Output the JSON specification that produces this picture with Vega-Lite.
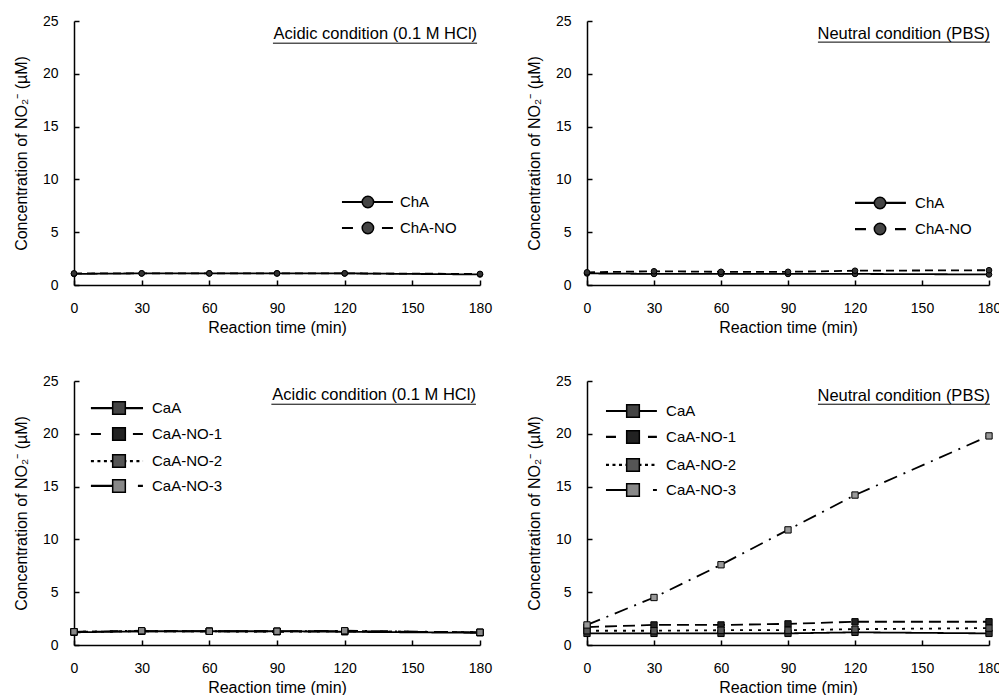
{
  "$schema": "https://vega.github.io/schema/vega-lite/v6.json",
  "background": "white",
  "padding": {"left": 13, "top": 14, "right": 0, "bottom": 0},
  "config": {
    "view": {"stroke": null},
    "font": "Liberation Sans",
    "axis": {
      "grid": false, "domainColor": "black", "domainWidth": 1.5, "tickColor": "black", "tickWidth": 1.5,
      "tickSize": -5, "labelColor": "black", "titleColor": "black", "labelFont": "Liberation Sans",
      "titleFont": "Liberation Sans", "labelFontSize": 14, "titleFontSize": 16, "titleFontWeight": "normal",
      "labelFlush": false, "labelOverlap": false
    },
    "axisX": {"labelPadding": 21, "titlePadding": 4},
    "axisY": {"labelPadding": 21, "titlePadding": 13},
    "text": {"font": "Liberation Sans", "color": "black"}
  },
  "resolve": {"scale": {"fill": "independent", "strokeDash": "independent"}},
  "spacing": 39,
  "datasets": {
    "ta": [
      {"t": 0, "c": 1.05, "s": "ChA"}, {"t": 30, "c": 1.1, "s": "ChA"}, {"t": 60, "c": 1.1, "s": "ChA"}, {"t": 90, "c": 1.1, "s": "ChA"}, {"t": 120, "c": 1.1, "s": "ChA"}, {"t": 180, "c": 1.0, "s": "ChA"},
      {"t": 0, "c": 1.1, "s": "ChA-NO"}, {"t": 30, "c": 1.1, "s": "ChA-NO"}, {"t": 60, "c": 1.1, "s": "ChA-NO"}, {"t": 90, "c": 1.1, "s": "ChA-NO"}, {"t": 120, "c": 1.1, "s": "ChA-NO"}, {"t": 180, "c": 1.05, "s": "ChA-NO"}
    ],
    "tn": [
      {"t": 0, "c": 1.1, "s": "ChA"}, {"t": 30, "c": 1.05, "s": "ChA"}, {"t": 60, "c": 1.05, "s": "ChA"}, {"t": 90, "c": 1.05, "s": "ChA"}, {"t": 120, "c": 1.05, "s": "ChA"}, {"t": 180, "c": 1.0, "s": "ChA"},
      {"t": 0, "c": 1.2, "s": "ChA-NO"}, {"t": 30, "c": 1.3, "s": "ChA-NO"}, {"t": 60, "c": 1.25, "s": "ChA-NO"}, {"t": 90, "c": 1.25, "s": "ChA-NO"}, {"t": 120, "c": 1.35, "s": "ChA-NO"}, {"t": 180, "c": 1.4, "s": "ChA-NO"}
    ],
    "ba": [
      {"t": 0, "c": 1.2, "s": "CaA"}, {"t": 30, "c": 1.3, "s": "CaA"}, {"t": 60, "c": 1.3, "s": "CaA"}, {"t": 90, "c": 1.3, "s": "CaA"}, {"t": 120, "c": 1.25, "s": "CaA"}, {"t": 180, "c": 1.15, "s": "CaA"},
      {"t": 0, "c": 1.25, "s": "CaA-NO-1"}, {"t": 30, "c": 1.3, "s": "CaA-NO-1"}, {"t": 60, "c": 1.3, "s": "CaA-NO-1"}, {"t": 90, "c": 1.3, "s": "CaA-NO-1"}, {"t": 120, "c": 1.3, "s": "CaA-NO-1"}, {"t": 180, "c": 1.2, "s": "CaA-NO-1"},
      {"t": 0, "c": 1.25, "s": "CaA-NO-2"}, {"t": 30, "c": 1.3, "s": "CaA-NO-2"}, {"t": 60, "c": 1.3, "s": "CaA-NO-2"}, {"t": 90, "c": 1.25, "s": "CaA-NO-2"}, {"t": 120, "c": 1.3, "s": "CaA-NO-2"}, {"t": 180, "c": 1.2, "s": "CaA-NO-2"},
      {"t": 0, "c": 1.25, "s": "CaA-NO-3"}, {"t": 30, "c": 1.35, "s": "CaA-NO-3"}, {"t": 60, "c": 1.3, "s": "CaA-NO-3"}, {"t": 90, "c": 1.3, "s": "CaA-NO-3"}, {"t": 120, "c": 1.35, "s": "CaA-NO-3"}, {"t": 180, "c": 1.2, "s": "CaA-NO-3"}
    ],
    "bn": [
      {"t": 0, "c": 1.1, "s": "CaA"}, {"t": 30, "c": 1.1, "s": "CaA"}, {"t": 60, "c": 1.1, "s": "CaA"}, {"t": 90, "c": 1.1, "s": "CaA"}, {"t": 120, "c": 1.2, "s": "CaA"}, {"t": 180, "c": 1.1, "s": "CaA"},
      {"t": 0, "c": 1.7, "s": "CaA-NO-1"}, {"t": 30, "c": 1.9, "s": "CaA-NO-1"}, {"t": 60, "c": 1.9, "s": "CaA-NO-1"}, {"t": 90, "c": 2.0, "s": "CaA-NO-1"}, {"t": 120, "c": 2.2, "s": "CaA-NO-1"}, {"t": 180, "c": 2.2, "s": "CaA-NO-1"},
      {"t": 0, "c": 1.35, "s": "CaA-NO-2"}, {"t": 30, "c": 1.35, "s": "CaA-NO-2"}, {"t": 60, "c": 1.4, "s": "CaA-NO-2"}, {"t": 90, "c": 1.4, "s": "CaA-NO-2"}, {"t": 120, "c": 1.5, "s": "CaA-NO-2"}, {"t": 180, "c": 1.6, "s": "CaA-NO-2"},
      {"t": 0, "c": 1.9, "s": "CaA-NO-3"}, {"t": 30, "c": 4.5, "s": "CaA-NO-3"}, {"t": 60, "c": 7.6, "s": "CaA-NO-3"}, {"t": 90, "c": 10.9, "s": "CaA-NO-3"}, {"t": 120, "c": 14.2, "s": "CaA-NO-3"}, {"t": 180, "c": 19.8, "s": "CaA-NO-3"}
    ]
  },
  "vconcat": [
    {
      "spacing": 34,
      "resolve": {"scale": {"fill": "independent", "strokeDash": "independent"}},
      "hconcat": [
        {
          "width": 406, "height": 264,
          "encoding": {
            "x": {"field": "t", "type": "quantitative", "scale": {"domain": [0, 180]}, "axis": {"values": [0, 30, 60, 90, 120, 150, 180], "title": "Reaction time (min)"}},
            "y": {"field": "c", "type": "quantitative", "scale": {"domain": [0, 25]}, "axis": {"values": [0, 5, 10, 15, 20, 25], "title": "Concentration of NO₂⁻ (µM)"}}
          },
          "layer": [
            {"data": {"name": "ta"}, "mark": {"type": "line", "color": "black", "strokeWidth": 1.8},
             "encoding": {"strokeDash": {"field": "s", "type": "nominal", "scale": {"domain": ["ChA", "ChA-NO"], "range": [[1, 0], [8, 5]]}, "legend": null}}},
            {"data": {"name": "ta"}, "mark": {"type": "point", "shape": "circle", "filled": true, "size": 32, "fill": "#333", "stroke": "black", "strokeWidth": 1, "opacity": 1}},
            {"data": {"name": "ta"}, "transform": [{"filter": "datum.t == 0 && datum.s == 'ChA'"}],
             "mark": {"type": "rule", "color": "black", "strokeWidth": 2.2},
             "encoding": {"x": {"datum": 118.8}, "x2": {"datum": 141.4}, "y": {"datum": 7.86}}},
            {"data": {"name": "ta"}, "transform": [{"filter": "datum.t == 0 && datum.s == 'ChA'"}],
             "mark": {"type": "rule", "color": "black", "strokeWidth": 2.2, "strokeDash": [11, 29]},
             "encoding": {"x": {"datum": 118.8}, "x2": {"datum": 141.4}, "y": {"datum": 5.4}}},
            {"data": {"name": "ta"}, "transform": [{"filter": "datum.t == 0 && datum.s == 'ChA'"}],
             "mark": {"type": "point", "shape": "circle", "filled": true, "size": 130, "fill": "#444", "stroke": "black", "strokeWidth": 1.5, "opacity": 1},
             "encoding": {"x": {"datum": 130.3}, "y": {"datum": 7.86}}},
            {"data": {"name": "ta"}, "transform": [{"filter": "datum.t == 0 && datum.s == 'ChA'"}],
             "mark": {"type": "point", "shape": "circle", "filled": true, "size": 130, "fill": "#444", "stroke": "black", "strokeWidth": 1.5, "opacity": 1},
             "encoding": {"x": {"datum": 130.3}, "y": {"datum": 5.4}}},
            {"data": {"name": "ta"}, "transform": [{"filter": "datum.t == 0 && datum.s == 'ChA'"}],
             "mark": {"type": "text", "text": "ChA", "align": "left", "baseline": "middle", "fontSize": 15},
             "encoding": {"x": {"datum": 144.5}, "y": {"datum": 7.86}}},
            {"data": {"name": "ta"}, "transform": [{"filter": "datum.t == 0 && datum.s == 'ChA'"}],
             "mark": {"type": "text", "text": "ChA-NO", "align": "left", "baseline": "middle", "fontSize": 15},
             "encoding": {"x": {"datum": 144.5}, "y": {"datum": 5.4}}},
            {"data": {"name": "ta"}, "transform": [{"filter": "datum.t == 0 && datum.s == 'ChA'"}],
             "mark": {"type": "text", "text": "Acidic condition (0.1 M HCl)", "align": "right", "baseline": "alphabetic", "fontSize": 16.5},
             "encoding": {"x": {"datum": 178.7}, "y": {"datum": 23.3}}},
            {"data": {"name": "ta"}, "transform": [{"filter": "datum.t == 0 && datum.s == 'ChA'"}],
             "mark": {"type": "rule", "color": "black", "strokeWidth": 1},
             "encoding": {"x": {"datum": 88.2}, "x2": {"datum": 178.7}, "y": {"datum": 22.9}}}
          ]
        },
        {
          "width": 402, "height": 264,
          "encoding": {
            "x": {"field": "t", "type": "quantitative", "scale": {"domain": [0, 180]}, "axis": {"values": [0, 30, 60, 90, 120, 150, 180], "title": "Reaction time (min)"}},
            "y": {"field": "c", "type": "quantitative", "scale": {"domain": [0, 25]}, "axis": {"values": [0, 5, 10, 15, 20, 25], "title": "Concentration of NO₂⁻ (µM)"}}
          },
          "layer": [
            {"data": {"name": "tn"}, "mark": {"type": "line", "color": "black", "strokeWidth": 1.8},
             "encoding": {"strokeDash": {"field": "s", "type": "nominal", "scale": {"domain": ["ChA", "ChA-NO"], "range": [[1, 0], [8, 5]]}, "legend": null}}},
            {"data": {"name": "tn"}, "mark": {"type": "point", "shape": "circle", "filled": true, "size": 32, "fill": "#333", "stroke": "black", "strokeWidth": 1, "opacity": 1}},
            {"data": {"name": "tn"}, "transform": [{"filter": "datum.t == 0 && datum.s == 'ChA'"}],
             "mark": {"type": "rule", "color": "black", "strokeWidth": 2.2},
             "encoding": {"x": {"datum": 120.0}, "x2": {"datum": 142.8}, "y": {"datum": 7.77}}},
            {"data": {"name": "tn"}, "transform": [{"filter": "datum.t == 0 && datum.s == 'ChA'"}],
             "mark": {"type": "rule", "color": "black", "strokeWidth": 2.2, "strokeDash": [11, 29]},
             "encoding": {"x": {"datum": 120.0}, "x2": {"datum": 142.8}, "y": {"datum": 5.3}}},
            {"data": {"name": "tn"}, "transform": [{"filter": "datum.t == 0 && datum.s == 'ChA'"}],
             "mark": {"type": "point", "shape": "circle", "filled": true, "size": 130, "fill": "#444", "stroke": "black", "strokeWidth": 1.5, "opacity": 1},
             "encoding": {"x": {"datum": 131.2}, "y": {"datum": 7.77}}},
            {"data": {"name": "tn"}, "transform": [{"filter": "datum.t == 0 && datum.s == 'ChA'"}],
             "mark": {"type": "point", "shape": "circle", "filled": true, "size": 130, "fill": "#444", "stroke": "black", "strokeWidth": 1.5, "opacity": 1},
             "encoding": {"x": {"datum": 131.2}, "y": {"datum": 5.3}}},
            {"data": {"name": "tn"}, "transform": [{"filter": "datum.t == 0 && datum.s == 'ChA'"}],
             "mark": {"type": "text", "text": "ChA", "align": "left", "baseline": "middle", "fontSize": 15},
             "encoding": {"x": {"datum": 146.9}, "y": {"datum": 7.77}}},
            {"data": {"name": "tn"}, "transform": [{"filter": "datum.t == 0 && datum.s == 'ChA'"}],
             "mark": {"type": "text", "text": "ChA-NO", "align": "left", "baseline": "middle", "fontSize": 15},
             "encoding": {"x": {"datum": 146.9}, "y": {"datum": 5.3}}},
            {"data": {"name": "tn"}, "transform": [{"filter": "datum.t == 0 && datum.s == 'ChA'"}],
             "mark": {"type": "text", "text": "Neutral condition (PBS)", "align": "right", "baseline": "alphabetic", "fontSize": 16.5},
             "encoding": {"x": {"datum": 180.4}, "y": {"datum": 23.3}}},
            {"data": {"name": "tn"}, "transform": [{"filter": "datum.t == 0 && datum.s == 'ChA'"}],
             "mark": {"type": "rule", "color": "black", "strokeWidth": 1},
             "encoding": {"x": {"datum": 103.4}, "x2": {"datum": 180.4}, "y": {"datum": 23.0}}}
          ]
        }
      ]
    },
    {
      "spacing": 34,
      "resolve": {"scale": {"fill": "independent", "strokeDash": "independent"}},
      "hconcat": [
        {
          "width": 406, "height": 264,
          "encoding": {
            "x": {"field": "t", "type": "quantitative", "scale": {"domain": [0, 180]}, "axis": {"values": [0, 30, 60, 90, 120, 150, 180], "title": "Reaction time (min)"}},
            "y": {"field": "c", "type": "quantitative", "scale": {"domain": [0, 25]}, "axis": {"values": [0, 5, 10, 15, 20, 25], "title": "Concentration of NO₂⁻ (µM)"}}
          },
          "layer": [
            {"data": {"name": "ba"}, "mark": {"type": "line", "color": "black", "strokeWidth": 1.8},
             "encoding": {"strokeDash": {"field": "s", "type": "nominal", "scale": {"domain": ["CaA", "CaA-NO-1", "CaA-NO-2", "CaA-NO-3"], "range": [[1, 0], [12, 6], [3, 6], [14, 7, 2, 7]]}, "legend": null}}},
            {"data": {"name": "ba"}, "mark": {"type": "point", "shape": "square", "filled": true, "size": 40, "stroke": "black", "strokeWidth": 1, "opacity": 1},
             "encoding": {"fill": {"field": "s", "type": "nominal", "scale": {"domain": ["CaA", "CaA-NO-1", "CaA-NO-2", "CaA-NO-3"], "range": ["#333", "#222", "#555", "#888"]}, "legend": null}}},
            {"data": {"name": "ba"}, "transform": [{"filter": "datum.t == 0 && datum.s == 'CaA'"}],
             "mark": {"type": "rule", "color": "black", "strokeWidth": 2.2},
             "encoding": {"x": {"datum": 7.5}, "x2": {"datum": 30.6}, "y": {"datum": 22.44}}},
            {"data": {"name": "ba"}, "transform": [{"filter": "datum.t == 0 && datum.s == 'CaA'"}],
             "mark": {"type": "rule", "color": "black", "strokeWidth": 2.2, "strokeDash": [10, 32]},
             "encoding": {"x": {"datum": 7.5}, "x2": {"datum": 30.6}, "y": {"datum": 19.98}}},
            {"data": {"name": "ba"}, "transform": [{"filter": "datum.t == 0 && datum.s == 'CaA'"}],
             "mark": {"type": "rule", "color": "black", "strokeWidth": 2.2, "strokeDash": [3, 3.5]},
             "encoding": {"x": {"datum": 7.5}, "x2": {"datum": 30.6}, "y": {"datum": 17.42}}},
            {"data": {"name": "ba"}, "transform": [{"filter": "datum.t == 0 && datum.s == 'CaA'"}],
             "mark": {"type": "rule", "color": "black", "strokeWidth": 2.2, "strokeDash": [30, 17, 5, 100]},
             "encoding": {"x": {"datum": 7.5}, "x2": {"datum": 30.6}, "y": {"datum": 15.06}}},
            {"data": {"name": "ba"}, "transform": [{"filter": "datum.t == 0 && datum.s == 'CaA'"}],
             "mark": {"type": "point", "shape": "square", "filled": true, "size": 160, "fill": "#444", "stroke": "black", "strokeWidth": 1.5, "opacity": 1},
             "encoding": {"x": {"datum": 19.95}, "y": {"datum": 22.44}}},
            {"data": {"name": "ba"}, "transform": [{"filter": "datum.t == 0 && datum.s == 'CaA'"}],
             "mark": {"type": "point", "shape": "square", "filled": true, "size": 160, "fill": "#222", "stroke": "black", "strokeWidth": 1.5, "opacity": 1},
             "encoding": {"x": {"datum": 19.95}, "y": {"datum": 19.98}}},
            {"data": {"name": "ba"}, "transform": [{"filter": "datum.t == 0 && datum.s == 'CaA'"}],
             "mark": {"type": "point", "shape": "square", "filled": true, "size": 160, "fill": "#555", "stroke": "black", "strokeWidth": 1.5, "opacity": 1},
             "encoding": {"x": {"datum": 19.95}, "y": {"datum": 17.42}}},
            {"data": {"name": "ba"}, "transform": [{"filter": "datum.t == 0 && datum.s == 'CaA'"}],
             "mark": {"type": "point", "shape": "square", "filled": true, "size": 160, "fill": "#888", "stroke": "black", "strokeWidth": 1.5, "opacity": 1},
             "encoding": {"x": {"datum": 19.95}, "y": {"datum": 15.06}}},
            {"data": {"name": "ba"}, "transform": [{"filter": "datum.t == 0 && datum.s == 'CaA'"}],
             "mark": {"type": "text", "text": "CaA", "align": "left", "baseline": "middle", "fontSize": 15},
             "encoding": {"x": {"datum": 34.6}, "y": {"datum": 22.44}}},
            {"data": {"name": "ba"}, "transform": [{"filter": "datum.t == 0 && datum.s == 'CaA'"}],
             "mark": {"type": "text", "text": "CaA-NO-1", "align": "left", "baseline": "middle", "fontSize": 15},
             "encoding": {"x": {"datum": 34.6}, "y": {"datum": 19.98}}},
            {"data": {"name": "ba"}, "transform": [{"filter": "datum.t == 0 && datum.s == 'CaA'"}],
             "mark": {"type": "text", "text": "CaA-NO-2", "align": "left", "baseline": "middle", "fontSize": 15},
             "encoding": {"x": {"datum": 34.6}, "y": {"datum": 17.42}}},
            {"data": {"name": "ba"}, "transform": [{"filter": "datum.t == 0 && datum.s == 'CaA'"}],
             "mark": {"type": "text", "text": "CaA-NO-3", "align": "left", "baseline": "middle", "fontSize": 15},
             "encoding": {"x": {"datum": 34.6}, "y": {"datum": 15.06}}},
            {"data": {"name": "ba"}, "transform": [{"filter": "datum.t == 0 && datum.s == 'CaA'"}],
             "mark": {"type": "text", "text": "Acidic condition (0.1 M HCl)", "align": "right", "baseline": "alphabetic", "fontSize": 16.5},
             "encoding": {"x": {"datum": 178.2}, "y": {"datum": 23.2}}},
            {"data": {"name": "ba"}, "transform": [{"filter": "datum.t == 0 && datum.s == 'CaA'"}],
             "mark": {"type": "rule", "color": "black", "strokeWidth": 1},
             "encoding": {"x": {"datum": 87.5}, "x2": {"datum": 178.2}, "y": {"datum": 22.8}}}
          ]
        },
        {
          "width": 402, "height": 264,
          "encoding": {
            "x": {"field": "t", "type": "quantitative", "scale": {"domain": [0, 180]}, "axis": {"values": [0, 30, 60, 90, 120, 150, 180], "title": "Reaction time (min)"}},
            "y": {"field": "c", "type": "quantitative", "scale": {"domain": [0, 25]}, "axis": {"values": [0, 5, 10, 15, 20, 25], "title": "Concentration of NO₂⁻ (µM)"}}
          },
          "layer": [
            {"data": {"name": "bn"}, "mark": {"type": "line", "color": "black", "strokeWidth": 1.8},
             "encoding": {"strokeDash": {"field": "s", "type": "nominal", "scale": {"domain": ["CaA", "CaA-NO-1", "CaA-NO-2", "CaA-NO-3"], "range": [[1, 0], [12, 6], [3, 6], [14, 7, 2, 7]]}, "legend": null}}},
            {"data": {"name": "bn"}, "mark": {"type": "point", "shape": "square", "filled": true, "size": 40, "stroke": "black", "strokeWidth": 1, "opacity": 1},
             "encoding": {"fill": {"field": "s", "type": "nominal", "scale": {"domain": ["CaA", "CaA-NO-1", "CaA-NO-2", "CaA-NO-3"], "range": ["#333", "#222", "#555", "#999"]}, "legend": null}}},
            {"data": {"name": "bn"}, "transform": [{"filter": "datum.t == 0 && datum.s == 'CaA'"}],
             "mark": {"type": "rule", "color": "black", "strokeWidth": 2.2},
             "encoding": {"x": {"datum": 8.5}, "x2": {"datum": 31.3}, "y": {"datum": 22.16}}},
            {"data": {"name": "bn"}, "transform": [{"filter": "datum.t == 0 && datum.s == 'CaA'"}],
             "mark": {"type": "rule", "color": "black", "strokeWidth": 2.2, "strokeDash": [10, 32]},
             "encoding": {"x": {"datum": 8.5}, "x2": {"datum": 31.3}, "y": {"datum": 19.7}}},
            {"data": {"name": "bn"}, "transform": [{"filter": "datum.t == 0 && datum.s == 'CaA'"}],
             "mark": {"type": "rule", "color": "black", "strokeWidth": 2.2, "strokeDash": [3, 3.5]},
             "encoding": {"x": {"datum": 8.5}, "x2": {"datum": 31.3}, "y": {"datum": 17.05}}},
            {"data": {"name": "bn"}, "transform": [{"filter": "datum.t == 0 && datum.s == 'CaA'"}],
             "mark": {"type": "rule", "color": "black", "strokeWidth": 2.2, "strokeDash": [30, 17, 5, 100]},
             "encoding": {"x": {"datum": 8.5}, "x2": {"datum": 31.3}, "y": {"datum": 14.68}}},
            {"data": {"name": "bn"}, "transform": [{"filter": "datum.t == 0 && datum.s == 'CaA'"}],
             "mark": {"type": "point", "shape": "square", "filled": true, "size": 160, "fill": "#444", "stroke": "black", "strokeWidth": 1.5, "opacity": 1},
             "encoding": {"x": {"datum": 20.6}, "y": {"datum": 22.16}}},
            {"data": {"name": "bn"}, "transform": [{"filter": "datum.t == 0 && datum.s == 'CaA'"}],
             "mark": {"type": "point", "shape": "square", "filled": true, "size": 160, "fill": "#222", "stroke": "black", "strokeWidth": 1.5, "opacity": 1},
             "encoding": {"x": {"datum": 20.6}, "y": {"datum": 19.7}}},
            {"data": {"name": "bn"}, "transform": [{"filter": "datum.t == 0 && datum.s == 'CaA'"}],
             "mark": {"type": "point", "shape": "square", "filled": true, "size": 160, "fill": "#555", "stroke": "black", "strokeWidth": 1.5, "opacity": 1},
             "encoding": {"x": {"datum": 20.6}, "y": {"datum": 17.05}}},
            {"data": {"name": "bn"}, "transform": [{"filter": "datum.t == 0 && datum.s == 'CaA'"}],
             "mark": {"type": "point", "shape": "square", "filled": true, "size": 160, "fill": "#888", "stroke": "black", "strokeWidth": 1.5, "opacity": 1},
             "encoding": {"x": {"datum": 20.6}, "y": {"datum": 14.68}}},
            {"data": {"name": "bn"}, "transform": [{"filter": "datum.t == 0 && datum.s == 'CaA'"}],
             "mark": {"type": "text", "text": "CaA", "align": "left", "baseline": "middle", "fontSize": 15},
             "encoding": {"x": {"datum": 35.4}, "y": {"datum": 22.16}}},
            {"data": {"name": "bn"}, "transform": [{"filter": "datum.t == 0 && datum.s == 'CaA'"}],
             "mark": {"type": "text", "text": "CaA-NO-1", "align": "left", "baseline": "middle", "fontSize": 15},
             "encoding": {"x": {"datum": 35.4}, "y": {"datum": 19.7}}},
            {"data": {"name": "bn"}, "transform": [{"filter": "datum.t == 0 && datum.s == 'CaA'"}],
             "mark": {"type": "text", "text": "CaA-NO-2", "align": "left", "baseline": "middle", "fontSize": 15},
             "encoding": {"x": {"datum": 35.4}, "y": {"datum": 17.05}}},
            {"data": {"name": "bn"}, "transform": [{"filter": "datum.t == 0 && datum.s == 'CaA'"}],
             "mark": {"type": "text", "text": "CaA-NO-3", "align": "left", "baseline": "middle", "fontSize": 15},
             "encoding": {"x": {"datum": 35.4}, "y": {"datum": 14.68}}},
            {"data": {"name": "bn"}, "transform": [{"filter": "datum.t == 0 && datum.s == 'CaA'"}],
             "mark": {"type": "text", "text": "Neutral condition (PBS)", "align": "right", "baseline": "alphabetic", "fontSize": 16.5},
             "encoding": {"x": {"datum": 180.4}, "y": {"datum": 23.1}}},
            {"data": {"name": "bn"}, "transform": [{"filter": "datum.t == 0 && datum.s == 'CaA'"}],
             "mark": {"type": "rule", "color": "black", "strokeWidth": 1},
             "encoding": {"x": {"datum": 103.4}, "x2": {"datum": 180.4}, "y": {"datum": 22.8}}}
          ]
        }
      ]
    }
  ]
}
